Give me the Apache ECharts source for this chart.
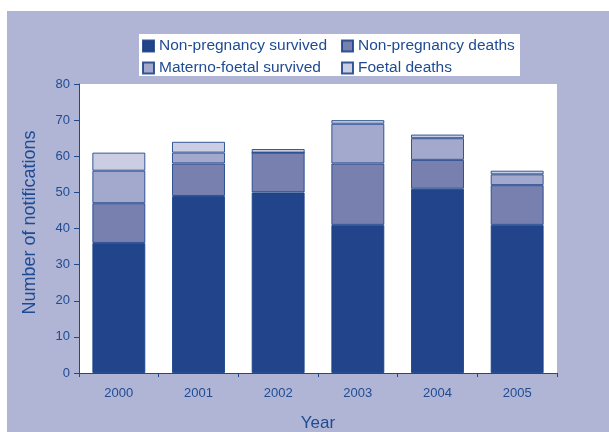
<!DOCTYPE html>
<html><head><meta charset="utf-8">
<script src="https://cdn.jsdelivr.net/npm/echarts@6/dist/echarts.min.js"></script>
<style>html,body{margin:0;padding:0;background:#fff}#c{width:609px;height:432px}</style>
</head><body><div id="c"></div>
<script>
var years = ['2000','2001','2002','2003','2004','2005'];
var nonPregSurvived = [36, 49, 50, 41, 51, 41];
var nonPregDeaths = [11, 9, 11, 17, 8, 11];
var maternoFoetalSurvived = [9, 3, 0, 11, 6, 3];
var foetalDeaths = [5, 3, 1, 1, 1, 1];
var seriesNames = ['Non-pregnancy survived','Non-pregnancy deaths','Materno-foetal survived','Foetal deaths'];
var colors = ['#22448a','#7880b0','#a3a9cd','#cbcee3'];
var txt = '#1f4b92';
var font = 'Liberation Sans, Arial, sans-serif';
var dataSets = [nonPregSurvived, nonPregDeaths, maternoFoetalSurvived, foetalDeaths];
var chart = echarts.init(document.getElementById('c'), null, {renderer:'canvas'});
var series = dataSets.map(function(d,i){
  return {name: seriesNames[i], type:'bar', stack:'t', data:d, barWidth:'66.5%',
    itemStyle:{color:colors[i], borderColor:'rgba(22,64,135,0.85)', borderWidth:1},
    emphasis:{disabled:true}};
});
chart.setOption({
  backgroundColor:'#ffffff',
  animation:false,
  textStyle:{fontFamily:font},
  graphic:[
    {type:'rect', z:-10, shape:{x:7,y:11,width:602,height:421}, style:{fill:'#b0b5d5'}},
    {type:'rect', z:-5, shape:{x:139,y:34,width:381,height:42}, style:{fill:'#ffffff'}}
  ],
  legend:[
    {data:[seriesNames[0],seriesNames[2]], orient:'vertical', left:142, top:38, icon:'rect', itemWidth:11, itemHeight:11, itemGap:6, padding:0,
      textStyle:{color:txt, fontSize:15.5, fontFamily:font}},
    {data:[seriesNames[1],seriesNames[3]], orient:'vertical', left:341, top:38, icon:'rect', itemWidth:11, itemHeight:11, itemGap:6, padding:0,
      textStyle:{color:txt, fontSize:15.5, fontFamily:font}}
  ],
  grid:{left:79, right:52, top:84, bottom:59, show:true, backgroundColor:'#ffffff', borderWidth:0, outerBoundsMode:'none', containLabel:false},
  xAxis:{type:'category', data:years, name:'Year', nameLocation:'middle', nameGap:42,
    nameTextStyle:{color:txt, fontSize:17, fontFamily:font},
    axisLine:{lineStyle:{color:'#1c4a8e', width:1}},
    axisTick:{show:true, length:4, lineStyle:{color:'#1c4a8e'}},
    axisLabel:{color:txt, fontSize:13, margin:14, fontFamily:font}},
  yAxis:{type:'value', min:0, max:80, interval:10, name:'Number of notifications', nameLocation:'middle', nameGap:40,
    nameTextStyle:{color:txt, fontSize:18, fontFamily:font, padding:[0,0,0,12]},
    axisLine:{show:true, lineStyle:{color:'#1c4a8e', width:1}},
    axisTick:{show:true, length:5, lineStyle:{color:'#1c4a8e'}},
    splitLine:{show:false},
    axisLabel:{color:txt, fontSize:13, margin:9, fontFamily:font}},
  series: series
});
</script></body></html>
